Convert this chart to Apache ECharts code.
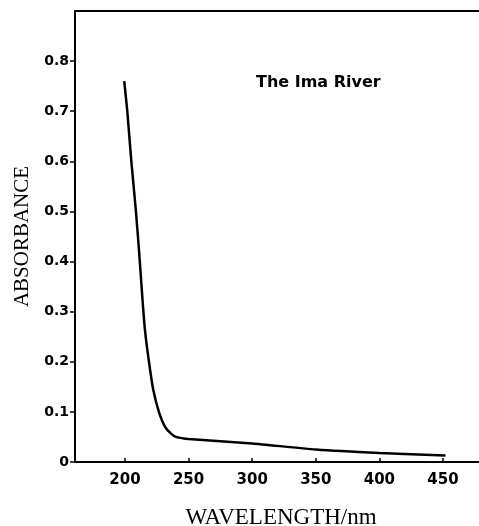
<!DOCTYPE html>
<html>
<head>
<meta charset="utf-8">
<script src="https://cdn.jsdelivr.net/npm/echarts@6/dist/echarts.min.js"></script>
<style>html,body{margin:0;padding:0;background:#fff}#c{width:479px;height:526px}</style>
</head>
<body>
<div id="c"></div>
<script>
var wavelengths = [199.4, 201.8, 205, 208.6, 211, 213.6, 215.7, 219, 222.3, 227, 231.5, 236, 240, 246, 250, 300, 350, 400, 452];
var absorbance  = [0.76, 0.70, 0.60, 0.50, 0.423, 0.33, 0.263, 0.197, 0.143, 0.097, 0.07, 0.057, 0.05, 0.047, 0.046, 0.037, 0.025, 0.018, 0.013];
var xTickValues = [200, 250, 300, 350, 400, 450];
var yTickValues = [0, 0.1, 0.2, 0.3, 0.4, 0.5, 0.6, 0.7, 0.8];
var seriesName = 'The Ima River';

var chart = echarts.init(document.getElementById('c'), null, {renderer: 'canvas'});
var pts = wavelengths.map(function (w, i) { return [w, absorbance[i]]; });
var xMin = 160.7, xMax = 484.6;
chart.setOption({
  animation: false,
  backgroundColor: '#fff',
  title: {
    text: seriesName,
    left: 251, top: 70,
    textStyle: {fontFamily: 'DejaVu Sans', fontWeight: 'bold', fontSize: 16, color: '#000'}
  },
  grid: {left: 75, right: -8, top: 11, bottom: 64, containLabel: false, outerBoundsMode: 'none', show: false},
  xAxis: [{
    type: 'value', min: xMin, max: xMax,
    name: 'WAVELENGTH/nm', nameLocation: 'middle', nameGap: 44,
    nameTextStyle: {fontFamily: 'Liberation Serif', fontSize: 23, color: '#000'},
    axisLine: {show: true, lineStyle: {color: '#000', width: 2}},
    axisTick: {show: true, inside: true, length: 4, customValues: xTickValues, lineStyle: {color: '#000', width: 1.5}},
    axisLabel: {customValues: xTickValues, margin: 11, fontFamily: 'DejaVu Sans', fontWeight: 'bold', fontSize: 15, color: '#000'},
    splitLine: {show: false}
  }, {
    type: 'value', min: xMin, max: xMax, position: 'top',
    axisLine: {show: true, lineStyle: {color: '#000', width: 2}},
    axisTick: {show: false}, axisLabel: {show: false}, splitLine: {show: false}
  }],
  yAxis: {
    type: 'value', min: 0, max: 0.9,
    name: 'ABSORBANCE', nameLocation: 'middle', nameGap: 42,
    nameTextStyle: {fontFamily: 'Liberation Serif', fontSize: 21, color: '#000'},
    axisLine: {show: true, lineStyle: {color: '#000', width: 2}},
    axisTick: {show: true, inside: false, length: 5, customValues: yTickValues, lineStyle: {color: '#000', width: 1.5}},
    axisLabel: {customValues: yTickValues, margin: 6, fontFamily: 'DejaVu Sans', fontWeight: 'bold', fontSize: 14, color: '#000',
      formatter: function (v) { return v === 0 ? '0' : v.toFixed(1); }},
    splitLine: {show: false}
  },
  series: [{
    name: seriesName,
    type: 'line',
    data: pts,
    smooth: 0.2,
    showSymbol: false,
    lineStyle: {color: '#000', width: 2.5}
  }]
});
</script>
</body>
</html>
